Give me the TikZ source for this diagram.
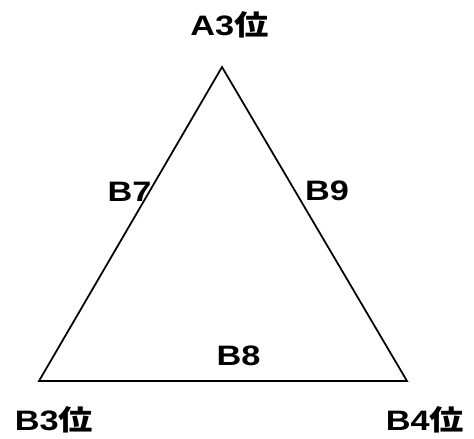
\documentclass[tikz,border=0pt]{standalone}
\usepackage{fontspec}
\setmainfont{Liberation Sans}[FakeStretch=1.22]
\newfontfamily\jpfont{Noto Sans CJK JP}[FakeStretch=1.22]
\newcommand{\rank}{{\jpfont 位}}
\tikzset{lbl/.style={font=\bfseries\fontsize{16pt}{19pt}\selectfont, inner sep=0pt, anchor=base}}
\begin{document}
\begin{tikzpicture}[x=0.02cm, y=-0.02cm]
\useasboundingbox (0,0) rectangle (474,439);
\coordinate (A) at (222,67);
\coordinate (B) at (39,381);
\coordinate (C) at (407,381);

\draw[line width=1pt] (A) -- (B) -- (C) -- cycle;

\node[lbl] (a3) at (229.5,36) {A3\rank};
\node[lbl] (b3) at (54,431) {B3\rank};
\node[lbl] (b4) at (425,430) {B4\rank};

\node[lbl] (b7) at (129.5,202) {B7};
\node[lbl] (b9) at (327,201) {B9};
\node[lbl] (b8) at (238.5,365) {B8};
\end{tikzpicture}
\end{document}
